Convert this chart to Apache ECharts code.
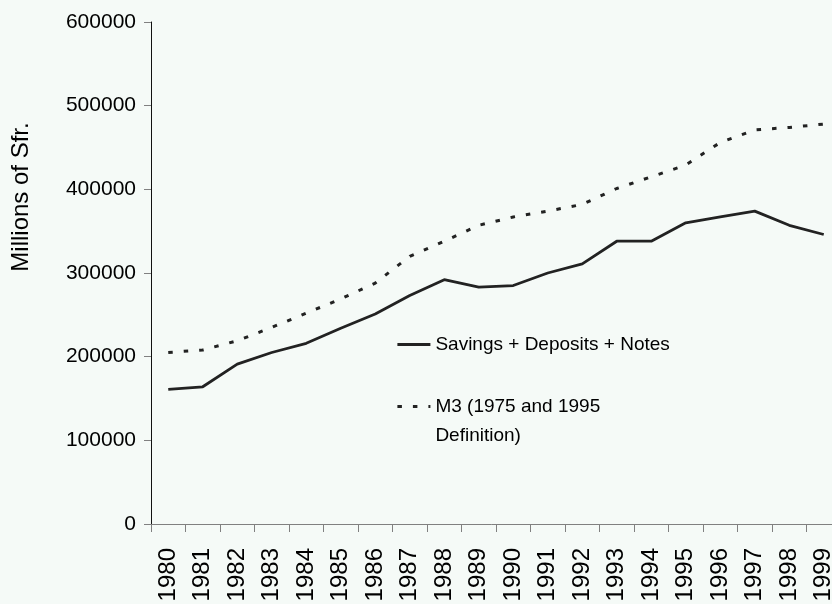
<!DOCTYPE html>
<html>
<head>
<meta charset="utf-8">
<script src="https://cdn.jsdelivr.net/npm/echarts@6/dist/echarts.min.js"></script>
<style>
html,body{margin:0;padding:0;background:#f5faf7;}
#chart{width:832px;height:604px;}
</style>
</head>
<body>
<div id="chart"></div>
<script>
const years = ['1980','1981','1982','1983','1984','1985','1986','1987','1988','1989','1990','1991','1992','1993','1994','1995','1996','1997','1998','1999'];
const savingsDepositsNotes = [161000,164000,191000,205000,216000,234000,251000,273000,292000,283000,285000,300000,311000,338000,338000,360000,367000,374000,357000,346000];
const m3 = [205000,208000,219000,235000,252000,269000,288000,320000,338000,357000,367000,374000,382000,401000,415000,429000,456000,471000,474000,478000];
const seriesNames = ['Savings + Deposits + Notes', 'M3 (1975 and 1995\nDefinition)'];
const yTicks = {min: 0, max: 600000, interval: 100000};
const yName = 'Millions of Sfr.';

const font = 'Liberation Sans, Arial, sans-serif';
const chart = echarts.init(document.getElementById('chart'), null, {renderer: 'canvas'});
const legendCommon = {
  padding: 0, itemWidth: 33, itemHeight: 20,
  itemStyle: {color: 'transparent', borderWidth: 0, borderColor: 'transparent'},
  lineStyle: {color: '#222', width: 2.8}
};
chart.setOption({
  backgroundColor: '#f5faf7',
  animation: false,
  grid: {left: 151, top: 22, right: -9, bottom: 80, containLabel: false, outerBoundsMode: 'none'},
  legend: [
    Object.assign({}, legendCommon, {
      data: [seriesNames[0]], left: 396, top: 335,
      textStyle: {fontFamily: font, fontSize: 19, color: '#000'}
    }),
    Object.assign({}, legendCommon, {
      data: [seriesNames[1]], left: 396, top: 363,
      formatter: function (name) { return '\n' + name; },
      textStyle: {fontFamily: font, fontSize: 19, color: '#000', lineHeight: 29}
    })
  ],
  xAxis: {
    type: 'category', data: years, boundaryGap: true,
    axisLine: {lineStyle: {color: '#808080', width: 1}},
    axisTick: {show: true, length: 8, inside: false, lineStyle: {color: '#808080'}},
    axisLabel: {rotate: 90, interval: 0, margin: 24, fontFamily: font, fontSize: 24, color: '#000'},
    splitLine: {show: false}
  },
  yAxis: {
    type: 'value', min: yTicks.min, max: yTicks.max, interval: yTicks.interval,
    name: yName, nameLocation: 'middle', nameRotate: 90, nameGap: 118,
    nameTextStyle: {fontFamily: font, fontSize: 24, color: '#000', padding: [0, 0, 0, 152]},
    axisLine: {show: true, lineStyle: {color: '#111', width: 1}},
    axisTick: {show: true, length: 7, lineStyle: {color: '#808080'}},
    axisLabel: {margin: 15, fontFamily: font, fontSize: 21, color: '#000', formatter: function (v) { return String(v); }},
    splitLine: {show: false}
  },
  series: [
    {
      name: seriesNames[0], type: 'line', data: savingsDepositsNotes,
      symbol: 'none', lineStyle: {color: '#222', width: 2.8, type: 'solid'},
      itemStyle: {color: '#222'}
    },
    {
      name: seriesNames[1], type: 'line', data: m3,
      symbol: 'none', lineStyle: {color: '#222', width: 3, type: [4.5, 11]},
      itemStyle: {color: '#222'}
    }
  ]
});
</script>
</body>
</html>
